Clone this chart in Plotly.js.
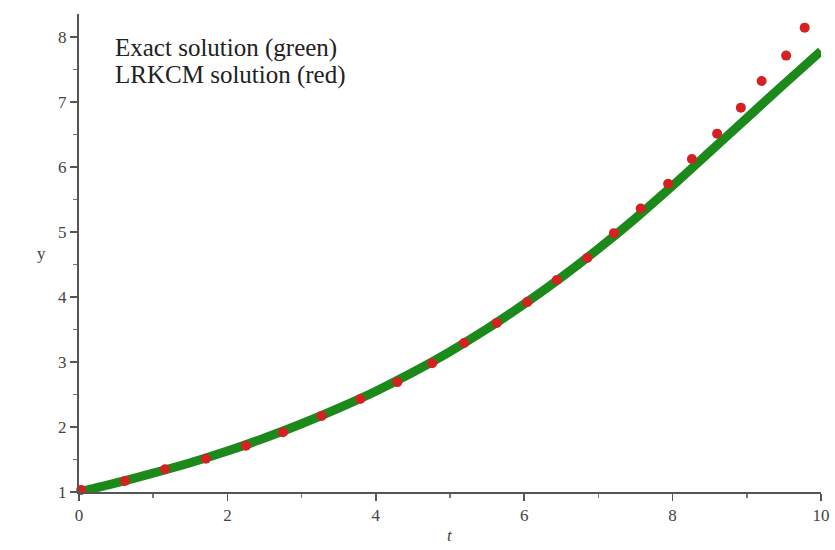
<!DOCTYPE html>
<html>
<head>
<meta charset="utf-8">
<script src="https://cdn.plot.ly/plotly-3.0.1.min.js"></script>
<style>html,body{margin:0;padding:0;background:#fff}#chart{width:835px;height:550px}</style>
</head>
<body>
<div id="chart"></div>
<script>
// Exact solution (green curve)
var exactT = [0, 0.5, 1, 1.5, 2, 2.5, 3, 3.5, 4, 4.5, 5, 5.5, 6, 6.5, 7, 7.5, 8, 8.5, 9, 9.5, 10];
var exactY = [1.00, 1.14, 1.29, 1.45, 1.63, 1.83, 2.05, 2.29, 2.55, 2.84, 3.16, 3.51, 3.89, 4.30, 4.74, 5.21, 5.71, 6.23, 6.75, 7.27, 7.78];

// LRKCM solution (red points)
var lrkcmT = [0.03, 0.62, 1.16, 1.71, 2.25, 2.75, 3.27, 3.79, 4.29, 4.76, 5.19, 5.63, 6.04, 6.44, 6.85, 7.21, 7.57, 7.94, 8.26, 8.60, 8.92, 9.20, 9.53, 9.78];
var lrkcmY = [1.03, 1.17, 1.35, 1.51, 1.71, 1.92, 2.17, 2.43, 2.69, 2.98, 3.29, 3.60, 3.92, 4.26, 4.60, 4.98, 5.36, 5.74, 6.12, 6.51, 6.91, 7.32, 7.71, 8.14];

var labelLines = ["Exact solution (green)", "LRKCM solution (red)"];

var traces = [
  {x: exactT, y: exactY, type: 'scatter', mode: 'lines', line: {color: '#1b8a1b', width: 9, shape: 'spline', smoothing: 0.8}, cliponaxis: false, hoverinfo: 'none'},
  {x: lrkcmT, y: lrkcmY, type: 'scatter', mode: 'markers', marker: {color: '#d42222', size: 10, symbol: 'circle'}, cliponaxis: false, hoverinfo: 'none'}
];

var serif = 'Liberation Serif, Times New Roman, serif';
var tickFont = {family: serif, size: 17, color: '#444'};
var layout = {
  width: 835, height: 550,
  margin: {l: 79, r: 14, t: 14, b: 58},
  paper_bgcolor: '#fff', plot_bgcolor: '#fff',
  showlegend: false,
  font: {family: serif},
  xaxis: {
    range: [0, 10], dtick: 2, tick0: 0, ticks: 'outside', ticklen: 7, tickwidth: 1.5, tickcolor: '#555',
    showline: true, linecolor: '#555', linewidth: 2, showgrid: false, zeroline: false,
    tickfont: tickFont,
    minor: {dtick: 1, ticks: 'outside', ticklen: 4, tickcolor: '#777', showgrid: false}
  },
  yaxis: {
    range: [1, 8.35], dtick: 1, tick0: 1, ticks: 'outside', ticklen: 7, tickwidth: 1.5, tickcolor: '#555',
    showline: true, linecolor: '#555', linewidth: 2, showgrid: false, zeroline: false,
    tickfont: tickFont,
    minor: {dtick: 0.5, ticks: 'outside', ticklen: 4, tickcolor: '#777', showgrid: false}
  },
  annotations: [
    {xref: 'paper', yref: 'paper', x: 0.046, y: 0.929, xanchor: 'left', yanchor: 'middle', showarrow: false,
     text: labelLines[0], font: {family: serif, size: 25, color: '#222'}},
    {xref: 'paper', yref: 'paper', x: 0.046, y: 0.873, xanchor: 'left', yanchor: 'middle', showarrow: false,
     text: labelLines[1], font: {family: serif, size: 25, color: '#222'}},
    {xref: 'paper', yref: 'paper', x: -0.05, y: 0.5, xanchor: 'center', yanchor: 'middle', showarrow: false,
     text: 'y', font: {family: serif, size: 17, color: '#444'}},
    {xref: 'paper', yref: 'paper', x: 0.5, y: -0.09, xanchor: 'center', yanchor: 'middle', showarrow: false,
     text: '<i>t</i>', font: {family: serif, size: 17, color: '#444'}}
  ]
};
Plotly.newPlot('chart', traces, layout, {staticPlot: true, displayModeBar: false});
</script>
</body>
</html>
